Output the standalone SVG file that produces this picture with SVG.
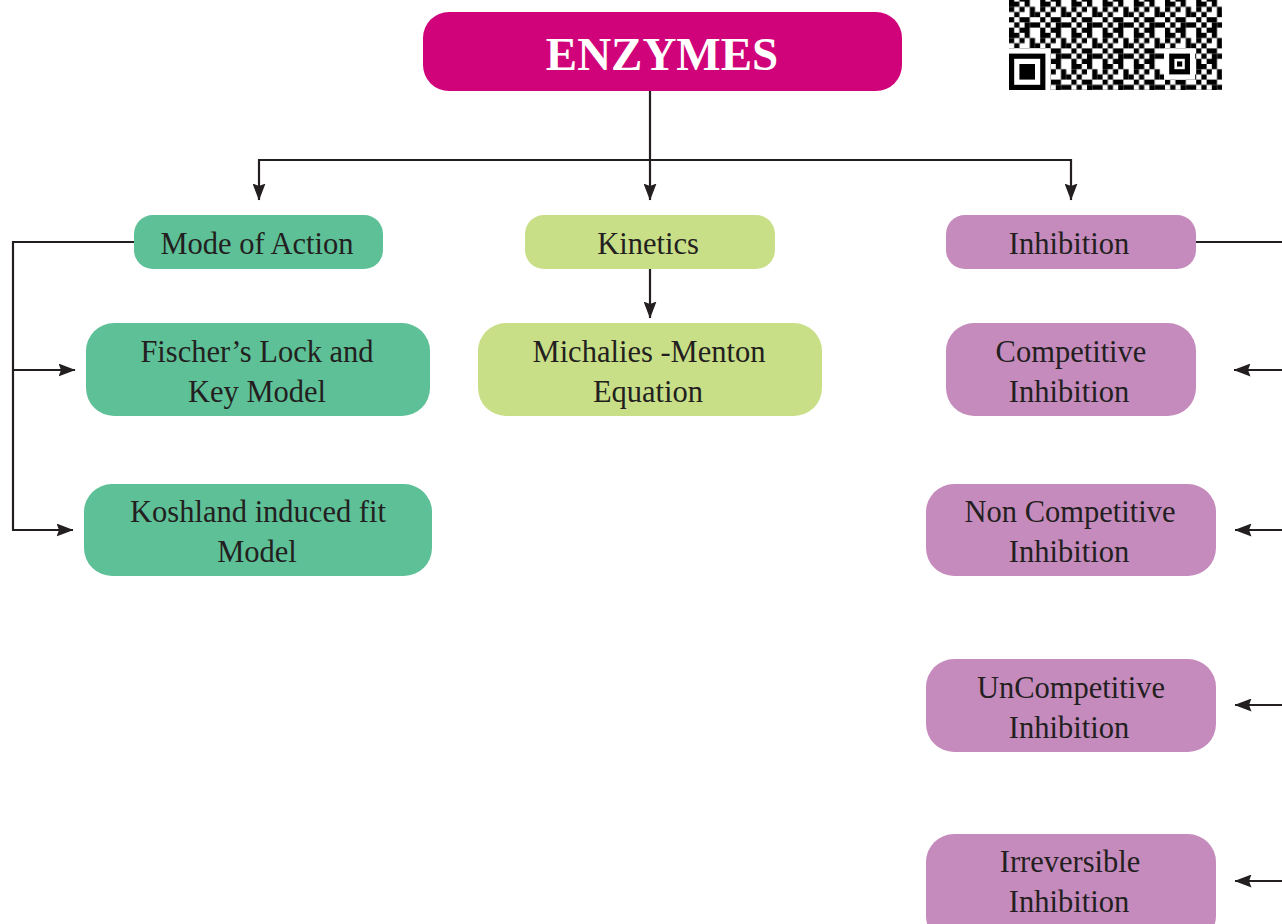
<svg xmlns="http://www.w3.org/2000/svg" width="1282" height="924" viewBox="0 0 1282 924">
<style>
.t{font-family:"Liberation Serif","Times New Roman",serif;font-size:30.5px;fill:#231f20;text-anchor:middle}
.h{font-family:"Liberation Serif","Times New Roman",serif;font-size:47px;font-weight:bold;fill:#fff;text-anchor:middle}
.g{fill:#5dc097}
.k{fill:#c9df87}
.p{fill:#c68bbd}
.c{fill:none;stroke:#231f20;stroke-width:2.2}
</style>
<defs>
<marker id="a" viewBox="0 0 17 13" refX="16.5" refY="6.5" markerWidth="17" markerHeight="13" markerUnits="userSpaceOnUse" orient="auto">
<path d="M0,0 L17,6.5 L0,13 L2.5,6.5 Z" fill="#231f20"/>
</marker>
<pattern id="qr" x="1009" y="1.6" width="31.2" height="31.2" patternUnits="userSpaceOnUse">
<g fill="#000">
<rect x="0" y="0" width="10.4" height="5.2"/><rect x="15.6" y="0" width="5.2" height="5.2"/>
<rect x="0" y="5.2" width="5.2" height="5.2"/><rect x="10.4" y="5.2" width="5.2" height="5.2"/><rect x="20.8" y="5.2" width="5.2" height="10.4"/>
<rect x="5.2" y="10.4" width="5.2" height="5.2"/><rect x="26" y="10.4" width="5.2" height="5.2"/>
<rect x="0" y="15.6" width="5.2" height="5.2"/><rect x="10.4" y="15.6" width="10.4" height="5.2"/>
<rect x="5.2" y="20.8" width="5.2" height="5.2"/><rect x="20.8" y="20.8" width="10.4" height="5.2"/>
<rect x="0" y="26" width="5.2" height="5.2"/><rect x="10.4" y="26" width="5.2" height="5.2"/><rect x="15.6" y="20.8" width="5.2" height="10.4"/>
</g>
</pattern>
</defs>
<g id="qrcode">
<rect x="1009" y="0" width="213" height="90" fill="url(#qr)"/>
<rect x="1009" y="48.4" width="41.6" height="41.6" fill="#fff"/>
<rect x="1009" y="53.6" width="36.4" height="36.4" fill="#000"/>
<rect x="1014.2" y="58.8" width="26" height="26" fill="#fff"/>
<rect x="1019.4" y="64" width="15.6" height="15.6" fill="#000"/>
<rect x="1164" y="48.4" width="31.2" height="31.2" fill="#fff"/>
<rect x="1169.2" y="53.6" width="20.8" height="20.8" fill="#000"/>
<rect x="1174.4" y="58.8" width="10.4" height="10.4" fill="#fff"/>
<rect x="1177" y="61.4" width="5.2" height="5.2" fill="#000"/>
</g>
<g id="connectors">
<path class="c" d="M650,91 V160"/>
<path class="c" d="M259,160 H1071"/>
<path class="c" d="M259,159 V200" marker-end="url(#a)"/>
<path class="c" d="M650,159 V200" marker-end="url(#a)"/>
<path class="c" d="M1071,159 V200" marker-end="url(#a)"/>
<path class="c" d="M650,269 V318" marker-end="url(#a)"/>
<path class="c" d="M134,242 H13 V530"/>
<path class="c" d="M12,370 H75" marker-end="url(#a)"/>
<path class="c" d="M12,530 H73" marker-end="url(#a)"/>
<path class="c" d="M1196,242 H1282"/>
<path class="c" d="M1282,370 H1234" marker-end="url(#a)"/>
<path class="c" d="M1282,530 H1235" marker-end="url(#a)"/>
<path class="c" d="M1282,705 H1235" marker-end="url(#a)"/>
<path class="c" d="M1282,881 H1235" marker-end="url(#a)"/>
</g>
<g id="enzymes">
<rect x="423" y="12" width="479" height="79" rx="26" fill="#d1037a"/>
<text class="h" x="662" y="70">ENZYMES</text>
</g>
<g id="mode-of-action">
<rect class="g" x="134" y="215" width="249" height="54" rx="19"/>
<text class="t" x="257" y="254">Mode of Action</text>
</g>
<g id="fischer">
<rect class="g" x="86" y="323" width="344" height="93" rx="28"/>
<text class="t" x="257" y="362">Fischer’s Lock and</text>
<text class="t" x="257" y="402">Key Model</text>
</g>
<g id="koshland">
<rect class="g" x="84" y="484" width="348" height="92" rx="28"/>
<text class="t" x="258" y="522">Koshland induced fit</text>
<text class="t" x="257" y="562">Model</text>
</g>
<g id="kinetics">
<rect class="k" x="525" y="215" width="250" height="54" rx="19"/>
<text class="t" x="648" y="254">Kinetics</text>
</g>
<g id="michalies">
<rect class="k" x="478" y="323" width="344" height="93" rx="28"/>
<text class="t" x="649" y="362">Michalies -Menton</text>
<text class="t" x="648" y="402">Equation</text>
</g>
<g id="inhibition">
<rect class="p" x="946" y="215" width="250" height="54" rx="19"/>
<text class="t" x="1069" y="254">Inhibition</text>
</g>
<g id="competitive">
<rect class="p" x="946" y="323" width="250" height="93" rx="28"/>
<text class="t" x="1071" y="362">Competitive</text>
<text class="t" x="1069" y="402">Inhibition</text>
</g>
<g id="non-competitive">
<rect class="p" x="926" y="484" width="290" height="92" rx="28"/>
<text class="t" x="1070" y="522">Non Competitive</text>
<text class="t" x="1069" y="562">Inhibition</text>
</g>
<g id="uncompetitive">
<rect class="p" x="926" y="659" width="290" height="93" rx="28"/>
<text class="t" x="1071" y="698">UnCompetitive</text>
<text class="t" x="1069" y="738">Inhibition</text>
</g>
<g id="irreversible">
<rect class="p" x="926" y="834" width="290" height="110" rx="28"/>
<text class="t" x="1070" y="872">Irreversible</text>
<text class="t" x="1069" y="912">Inhibition</text>
</g>
</svg>
